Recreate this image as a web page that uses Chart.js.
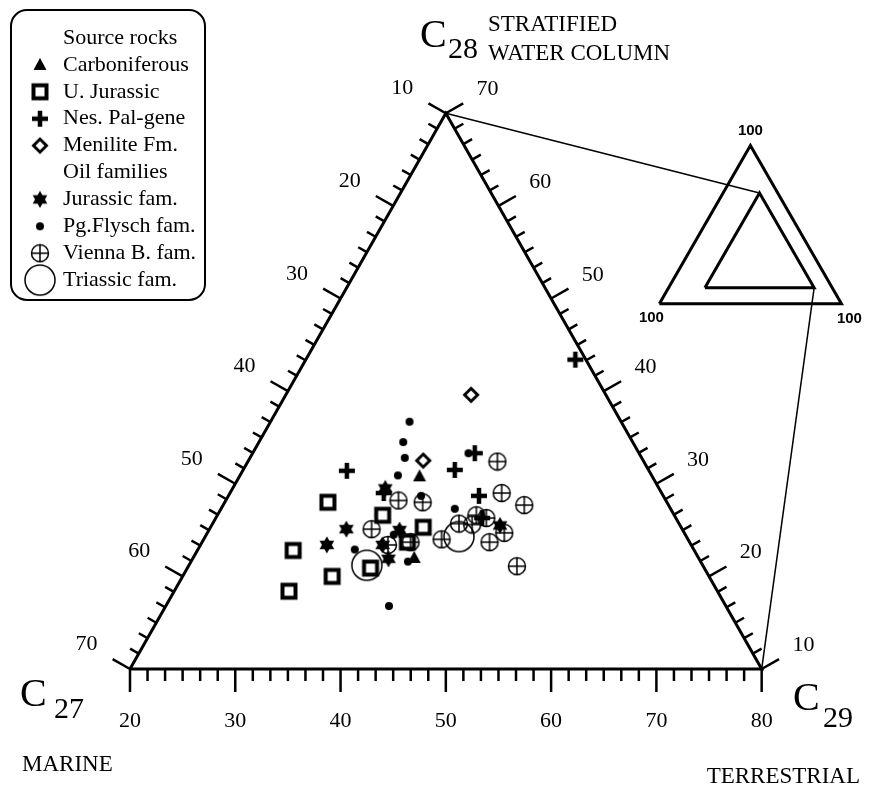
<!DOCTYPE html>
<html>
<head>
<meta charset="utf-8">
<script src="https://cdn.jsdelivr.net/npm/chart.js@4"></script>
<style>
  body { margin: 0; background: #fff; }
  #wrap { width: 871px; height: 789px; }
</style>
</head>
<body>
<div id="wrap"><canvas id="canvas"></canvas></div>
<script>
// samples as [C27, C28, C29] in %
const carboniferous = [[32.1, 30.8, 37.1], [37.0, 22.0, 41.0]];
const uJurassic = [[42.2, 28.0, 29.8], [37.7, 26.6, 35.7], [34.5, 25.3, 40.2], [36.8, 23.7, 39.5],
                   [48.1, 22.8, 29.1], [41.7, 20.9, 37.4], [45.8, 20.0, 34.2], [50.7, 18.4, 30.9]];
const nesPalgene = [[38.7, 31.4, 29.9], [28.4, 31.5, 40.1], [25.6, 33.3, 41.1], [27.5, 28.7, 43.8],
                    [36.4, 29.0, 34.6], [28.4, 26.3, 45.3], [11.0, 43.4, 45.6]];
const menilite = [[22.8, 39.6, 37.6], [30.9, 32.5, 36.6]];
const jurassicFam = [[36.0, 29.5, 34.5], [41.9, 25.1, 33.0], [44.6, 23.4, 32.0], [36.9, 25.0, 38.1],
                     [39.3, 23.4, 37.3], [39.5, 21.9, 38.6], [27.1, 25.5, 47.4]];
const flyschFam = [[30.1, 36.7, 33.2], [31.8, 34.5, 33.7], [32.5, 32.8, 34.7], [34.1, 30.9, 35.0],
                   [26.2, 33.3, 40.5], [33.0, 28.7, 38.3], [30.5, 27.3, 42.2], [42.2, 22.9, 34.9],
                   [37.7, 24.5, 37.8], [37.8, 21.6, 40.6], [42.0, 16.8, 41.2]];
const viennaFam = [[35.4, 28.2, 36.4], [33.2, 28.0, 38.8], [39.5, 25.1, 35.4], [38.8, 23.4, 37.8],
                   [36.5, 23.7, 39.8], [23.9, 32.4, 43.7], [25.2, 29.0, 45.8], [23.7, 27.7, 48.6],
                   [28.8, 26.6, 44.6], [28.0, 26.3, 45.7], [30.9, 25.7, 43.4], [29.7, 25.6, 44.7],
                   [27.1, 24.7, 48.2], [33.4, 24.0, 42.6], [29.0, 23.7, 47.3], [27.7, 21.1, 51.2]];
const triassicFam = [[41.9, 21.2, 36.9], [31.6, 24.3, 44.1]];

// plotted window and the full diagram in the inset
const windowCorners = [[70, 10, 20], [10, 10, 80], [10, 70, 20], [70, 10, 20]];
const fullCorners = [[100, 0, 0], [0, 0, 100], [0, 100, 0], [100, 0, 0]];
const c29Ticks = [20, 30, 40, 50, 60, 70, 80];
const c27Ticks = [10, 20, 30, 40, 50, 60, 70];
const c28Ticks = [10, 20, 30, 40, 50, 60, 70];
const insetLabels = ['100', '100', '100'];

const SERIF = '"Liberation Serif", "Times New Roman", serif';

let toXY = function(p) {
  return { x: p[2] + p[1] / 2, y: p[1] };
};

let marker = function(size, draw) {
  let c = document.createElement('canvas');
  c.width = size; c.height = size;
  let g = c.getContext('2d');
  g.translate(size / 2, size / 2);
  g.strokeStyle = '#000';
  g.fillStyle = '#000';
  draw(g);
  return c;
};

const markSquare = marker(22, g => { g.lineWidth = 4; g.strokeRect(-6.5, -6.5, 13, 13); });
const markTriangle = marker(18, g => {
  g.beginPath(); g.moveTo(0, -7); g.lineTo(6.5, 5); g.lineTo(-6.5, 5); g.closePath(); g.fill();
});
const markCross = marker(22, g => {
  g.lineWidth = 4.5; g.beginPath();
  g.moveTo(-8, 0); g.lineTo(8, 0); g.moveTo(0, -8); g.lineTo(0, 8); g.stroke();
});
const markDiamond = marker(20, g => {
  g.lineWidth = 3; g.beginPath();
  g.moveTo(0, -6.5); g.lineTo(6.5, 0); g.lineTo(0, 6.5); g.lineTo(-6.5, 0); g.closePath(); g.stroke();
});
const markStar = marker(20, g => {
  for (let k = 0; k < 2; k++) {
    g.beginPath();
    for (let j = 0; j < 3; j++) {
      let a = (-90 + k * 180 + j * 120) * Math.PI / 180;
      if (j === 0) g.moveTo(8.5 * Math.cos(a), 8.5 * Math.sin(a));
      else g.lineTo(8.5 * Math.cos(a), 8.5 * Math.sin(a));
    }
    g.closePath(); g.fill();
  }
});
const markDot = marker(10, g => { g.beginPath(); g.arc(0, 0, 4, 0, 2 * Math.PI); g.fill(); });
const markVienna = marker(20, g => {
  g.lineWidth = 1.5; g.beginPath(); g.arc(0, 0, 8.5, 0, 2 * Math.PI);
  g.moveTo(-8.5, 0); g.lineTo(8.5, 0); g.moveTo(0, -8.5); g.lineTo(0, 8.5); g.stroke();
});
const markTriassic = marker(34, g => { g.lineWidth = 1.5; g.beginPath(); g.arc(0, 0, 15, 0, 2 * Math.PI); g.stroke(); });

const legendRows = [
  ['Source rocks', null], ['Carboniferous', markTriangle], ['U. Jurassic', markSquare],
  ['Nes. Pal-gene', markCross], ['Menilite Fm.', markDiamond], ['Oil families', null],
  ['Jurassic fam.', markStar], ['Pg.Flysch fam.', markDot], ['Vienna B. fam.', markVienna],
  ['Triassic fam.', markTriassic]
];

let pointSet = function(label, rows, style) {
  return { label: label, data: rows.map(toXY), pointStyle: style, pointRadius: 6, showLine: false };
};

let frameSet = function(rows, axisX, axisY) {
  return {
    data: rows.map(toXY), showLine: true, borderColor: '#000', borderWidth: 3,
    pointRadius: 0, xAxisID: axisX, yAxisID: axisY, fill: false
  };
};

let ternaryDecor = {
  id: 'ternaryDecor',
  afterDatasetsDraw: function(chart) {
    let ctx = chart.ctx;
    let s = chart.scales;
    let pix = function(p, inset) {
      let q = toXY(p);
      return inset ? { x: s.x2.getPixelForValue(q.x), y: s.y2.getPixelForValue(q.y) }
                   : { x: s.x.getPixelForValue(q.x), y: s.y.getPixelForValue(q.y) };
    };
    ctx.save();
    ctx.strokeStyle = '#000';
    ctx.fillStyle = '#000';
    ctx.lineCap = 'butt';

    // axes: [point for value, first value, opposite corner, tick labels, major len, minor len, label dist]
    let sides = [
      [v => [90 - v, 10, v], 20, [10, 70, 20], c29Ticks, 23, 12, 52],
      [v => [v, 80 - v, 20], 10, [10, 10, 80], c27Ticks, 20, 10, 50],
      [v => [10, v, 90 - v], 10, [70, 10, 20], c28Ticks, 20, 10, 48]
    ];
    ctx.font = '22px ' + SERIF;
    ctx.textAlign = 'center';
    ctx.textBaseline = 'middle';
    for (let side of sides) {
      let f = side[0], lo = side[1];
      let a = pix(f(lo)), b = pix(f(lo + 60)), opp = pix(side[2]);
      let dx = b.x - a.x, dy = b.y - a.y, len = Math.hypot(dx, dy);
      let nx = -dy / len, ny = dx / len;
      let mx = (a.x + b.x) / 2, my = (a.y + b.y) / 2;
      if ((opp.x - mx) * nx + (opp.y - my) * ny > 0) { nx = -nx; ny = -ny; }
      if (Math.abs(ny) > 0.99) { nx = 0; ny = 1; }
      for (let i = 0; i <= 36; i++) {
        let p = pix(f(lo + i * 10 / 6));
        let major = i % 6 === 0;
        let l = major ? side[4] : side[5];
        ctx.lineWidth = 2.5;
        ctx.beginPath();
        ctx.moveTo(p.x, p.y);
        ctx.lineTo(p.x + nx * l, p.y + ny * l);
        ctx.stroke();
      }
      for (let v of side[3]) {
        let p = pix(f(v));
        ctx.fillText(String(v), p.x + nx * side[6], p.y + ny * side[6]);
      }
    }

    // link lines to inset
    ctx.lineWidth = 1.5;
    for (let corner of [[10, 70, 20], [10, 10, 80]]) {
      let a = pix(corner), b = pix(corner, true);
      ctx.beginPath(); ctx.moveTo(a.x, a.y); ctx.lineTo(b.x, b.y); ctx.stroke();
    }

    // inset labels
    ctx.font = 'bold 15px "Liberation Sans", Arial, sans-serif';
    let apex = pix([0, 100, 0], true), left = pix([100, 0, 0], true), right = pix([0, 0, 100], true);
    ctx.fillText(insetLabels[0], apex.x, apex.y - 15);
    ctx.fillText(insetLabels[1], left.x - 8, left.y + 14);
    ctx.fillText(insetLabels[2], right.x + 8, right.y + 15);

    // corner titles
    ctx.textAlign = 'left';
    ctx.textBaseline = 'alphabetic';
    ctx.font = '40px ' + SERIF;
    ctx.fillText('C', 20, 706);
    ctx.fillText('C', 420, 47);
    ctx.fillText('C', 793, 710);
    ctx.font = '30px ' + SERIF;
    ctx.fillText('27', 54, 718);
    ctx.fillText('28', 448, 58);
    ctx.fillText('29', 823, 727);
    ctx.font = '23px ' + SERIF;
    ctx.fillText('STRATIFIED', 488, 31);
    ctx.fillText('WATER COLUMN', 488, 60);
    ctx.fillText('MARINE', 22, 771);
    ctx.textAlign = 'right';
    ctx.fillText('TERRESTRIAL', 860, 783);

    // legend box
    ctx.lineWidth = 2;
    ctx.beginPath();
    ctx.roundRect(11, 10, 194, 290, 16);
    ctx.stroke();
    ctx.textAlign = 'left';
    ctx.textBaseline = 'middle';
    ctx.font = '22px ' + SERIF;
    legendRows.forEach(function(row, i) {
      let y = 38 + i * 26.9;
      if (row[1]) ctx.drawImage(row[1], 40 - row[1].width / 2, y - row[1].height / 2);
      ctx.fillText(row[0], 63, y);
    });
    ctx.restore();
  }
};

let renderChart = function() {
  let ctx = document.getElementById('canvas').getContext('2d');
  window.my_chart = new Chart(ctx, {
    type: 'scatter',
    data: {
      datasets: [
        pointSet('U. Jurassic', uJurassic, markSquare),
        pointSet('Nes. Pal-gene', nesPalgene, markCross),
        pointSet('Carboniferous', carboniferous, markTriangle),
        pointSet('Menilite Fm.', menilite, markDiamond),
        pointSet('Pg.Flysch fam.', flyschFam, markDot),
        pointSet('Jurassic fam.', jurassicFam, markStar),
        pointSet('Vienna B. fam.', viennaFam, markVienna),
        pointSet('Triassic fam.', triassicFam, markTriassic),
        frameSet(windowCorners, 'x', 'y'),
        frameSet(fullCorners, 'x2', 'y2'),
        frameSet(windowCorners, 'x2', 'y2')
      ]
    },
    options: {
      responsive: true,
      maintainAspectRatio: false,
      animation: false,
      events: [],
      layout: { padding: 0 },
      plugins: { legend: { display: false }, tooltip: { enabled: false } },
      scales: {
        x: { type: 'linear', display: false, min: 13.318, max: 94.72 },
        y: { type: 'linear', display: false, min: -2.195, max: 81.47 },
        x2: { type: 'linear', display: false, min: -358.4, max: 112.4 },
        y2: { type: 'linear', display: false, min: -302.5, max: 187.6 }
      }
    },
    plugins: [ternaryDecor]
  });
};

renderChart();
</script>
</body>
</html>
